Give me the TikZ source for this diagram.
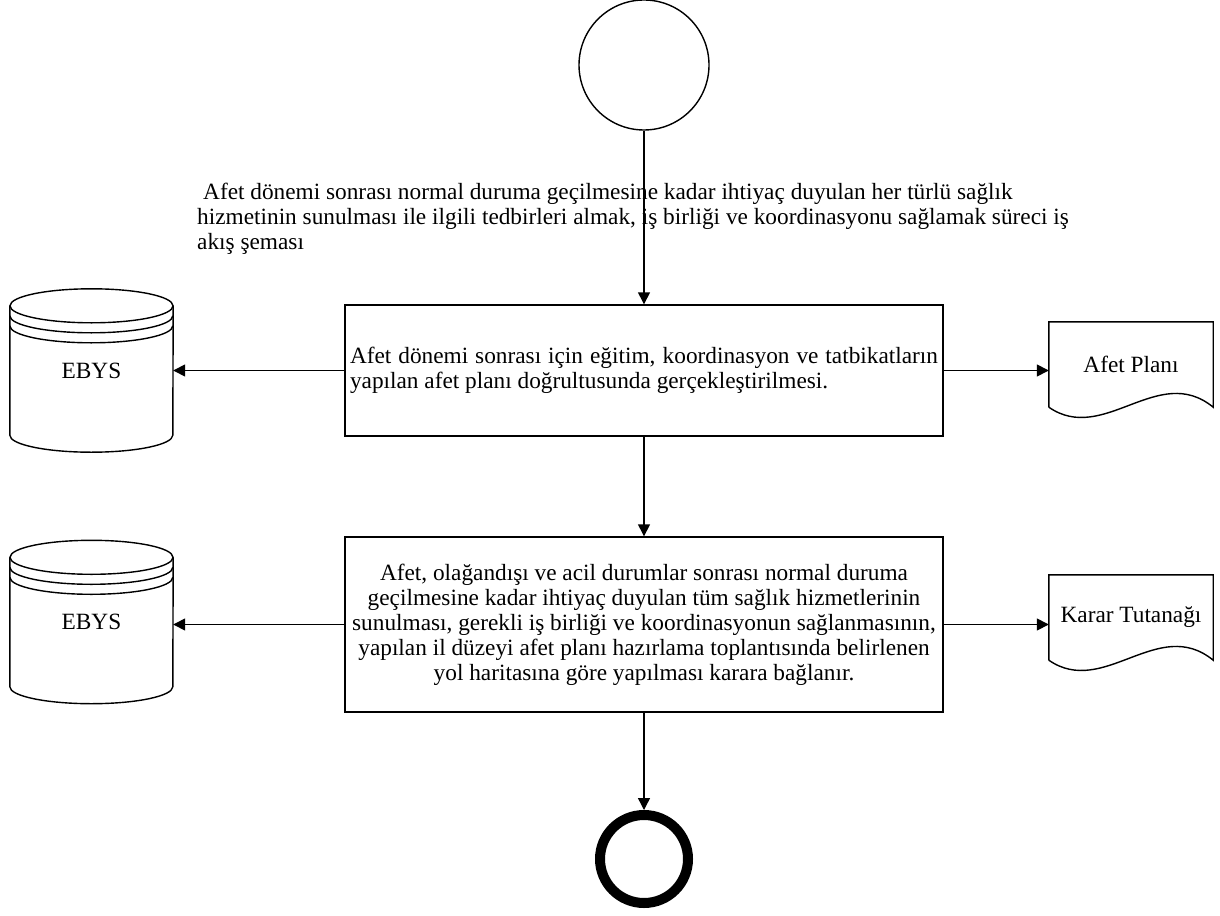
\documentclass[tikz,border=0pt]{standalone}
\usepackage{fontspec}
\setmainfont{Liberation Serif}
\usetikzlibrary{positioning, arrows.meta}

\tikzset{
  flowline/.style={line width=1.4pt},
  procbox/.style={draw, flowline, rectangle, minimum width=598pt, inner sep=0pt},
  drum/.style={rectangle, minimum width=163pt, minimum height=163pt, inner sep=0pt},
  docu/.style={rectangle, minimum width=164pt, minimum height=85pt, inner sep=0pt},
  startnode/.style={draw, flowline, circle, minimum size=130pt, inner sep=0pt},
  endnode/.style={draw, circle, line width=10pt, minimum size=88pt, inner sep=0pt},
}

% database drum with two extra rims
\newcommand{\dbdrum}[1]{%
  \draw[flowline] ([yshift=-17pt]#1.north) ellipse [x radius=81.5pt, y radius=17pt];
  \draw[flowline] ([yshift=-27pt]#1.north west) arc [start angle=180, end angle=360, x radius=81.5pt, y radius=17pt];
  \draw[flowline] ([yshift=-37pt]#1.north west) arc [start angle=180, end angle=360, x radius=81.5pt, y radius=17pt];
  \draw[flowline] ([yshift=-17pt]#1.north west) -- ([yshift=17pt]#1.south west)
    arc [start angle=180, end angle=360, x radius=81.5pt, y radius=17pt] -- ([yshift=-17pt]#1.north east);
}
% document with wavy bottom
\newcommand{\docpage}[1]{%
  \draw[flowline] (#1.south west) -- (#1.north west) -- (#1.north east) -- (#1.south east)
    .. controls +(-55pt,45pt) and +(55pt,-38pt) .. (#1.south west);
}

\begin{document}
\begin{tikzpicture}[x=1pt, y=-1pt, on grid, font=\fontsize{23.3}{25}\selectfont,
  >={Triangle[length=12pt,width=12pt]}]
  \fill[white] (0,0) rectangle (1220,915);
  \useasboundingbox (0,0) rectangle (1220,915);

  \node[startnode] (start) at (644,65) {};
  \node[anchor=north west, inner sep=0pt, align=left] (title) at (197,183)
    {\hspace*{6pt}Afet dönemi sonrası normal duruma geçilmesine kadar ihtiyaç duyulan her türlü sağlık\\
     hizmetinin sunulması ile ilgili tedbirleri almak, iş birliği ve koordinasyonu sağlamak süreci iş\\
     akış şeması};

  \node[procbox, minimum height=131pt, text width=588pt, align=justify] (box1) [below=305.5pt of start]
    {Afet dönemi sonrası için eğitim, koordinasyon ve tatbikatların\linebreak
     yapılan afet planı doğrultusunda gerçekleştirilmesi.};
  \node[drum] (ebys1) [left=552.5pt of box1] {EBYS};
  \node[docu] (plan) [right=487pt of box1, yshift=6pt] {Afet Planı};

  \node[procbox, minimum height=175pt, align=center] (box2) [below=254pt of box1]
    {Afet, olağandışı ve acil durumlar sonrası normal duruma\\
     geçilmesine kadar ihtiyaç duyulan tüm sağlık hizmetlerinin\\
     sunulması, gerekli iş birliği ve koordinasyonun sağlanmasının,\\
     yapılan il düzeyi afet planı hazırlama toplantısında belirlenen\\
     yol haritasına göre yapılması karara bağlanır.};
  \node[drum] (ebys2) [left=552.5pt of box2, yshift=2.5pt] {EBYS};
  \node[docu] (tutanak) [right=487pt of box2, yshift=7pt] {Karar Tutanağı};

  \node[endnode] (end) [below=234.5pt of box2] {};

  \dbdrum{ebys1}
  \dbdrum{ebys2}
  \docpage{plan}
  \docpage{tutanak}

  \path[->, flowline]
    (start) edge (box1)
    (box1) edge (ebys1)
           edge (box1.east -| plan.west)
           edge (box2)
    (box2) edge (box2.west -| ebys2.east)
           edge (box2.east -| tutanak.west)
           edge (end);
\end{tikzpicture}
\end{document}
